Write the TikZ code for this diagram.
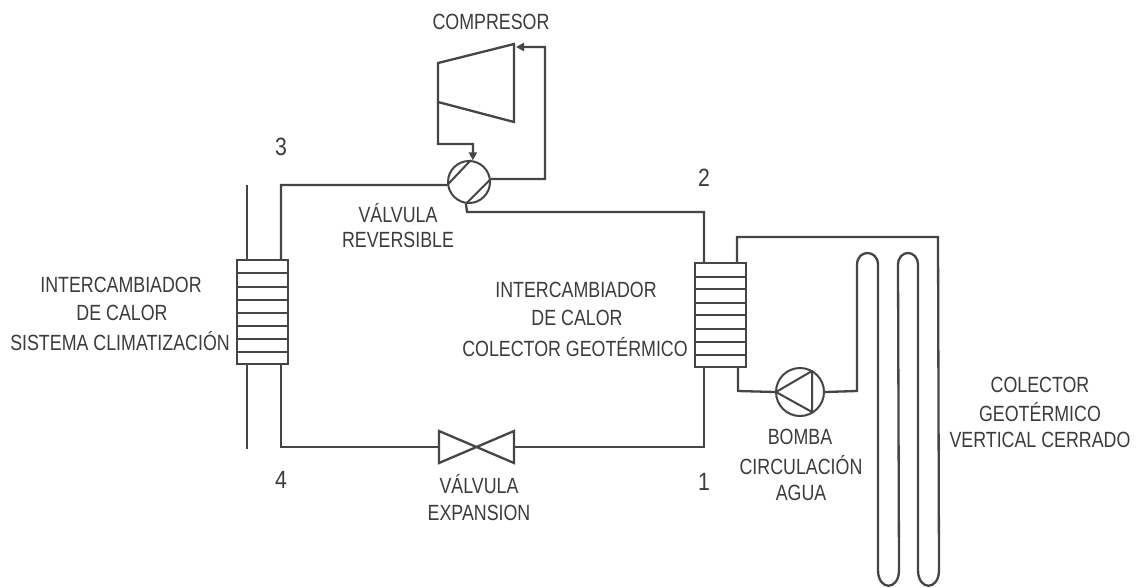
\documentclass[tikz,border=0pt]{standalone}
\usepackage{fontspec}
\setmainfont{Liberation Sans}
\usetikzlibrary{arrows.meta}
\definecolor{ink}{HTML}{454545}
\definecolor{txt}{HTML}{3C3C3C}
\tikzset{
  pipe/.style={draw=ink,line width=2.3pt,line join=miter},
  thin pipe/.style={draw=ink,line width=2pt},
  hx/.style={draw=ink,line width=2.3pt,fill=white,minimum width=51pt,minimum height=104pt,inner sep=0pt},
  roundel/.style={circle,draw=ink,line width=2pt,fill=white,inner sep=0pt},
  lbl/.style={text=txt,font=\fontsize{22}{22}\selectfont,inner sep=0pt,xscale=.81,transform shape,anchor=center},
  num/.style={text=txt,font=\fontsize{25}{25}\selectfont,inner sep=0pt,xscale=.85,transform shape,anchor=center},
  head/.style={-{Triangle[length=8pt,width=8pt]}}
}
\begin{document}
\begin{tikzpicture}[x=1pt,y=-1pt]
\useasboundingbox[fill=white] (0,0) rectangle (1136,587);
% nodes
\node[hx] (hxl) at (262.5,312) {};
\node[hx] (hxr) at (720.5,315) {};
\node[roundel,minimum size=42pt] (valve) at (469,182) {};
\node[roundel,minimum size=48pt] (pump) at (800,392) {};
\coordinate (ca) at (438,63);
\coordinate (cb) at (514,44);
\coordinate (cc) at (514,122);
\coordinate (cd) at (438,102);
\coordinate (exl) at (439,431);
\coordinate (exr) at (514,431);
\coordinate (exrb) at (514,463);
\coordinate (exlb) at (439,463);
\coordinate (exw) at (439,447);
\coordinate (exe) at (514,447);
% exchanger plates
\foreach \y in {273,287,300,313,326,339,352}
  \draw[pipe,line width=2.1pt] (hxl.west |- 0,\y) -- (hxl.east |- 0,\y);
\foreach \y in {277,289,303,315,329,342,355}
  \draw[pipe,line width=2.1pt] (hxr.west |- 0,\y) -- (hxr.east |- 0,\y);
% compressor
\draw[pipe] (ca) -- (cb) -- (cc) -- (cd) -- cycle;
\coordinate (cl) at (438,144);
\coordinate (cv) at (473,144);
\coordinate (ctr) at (545,47);
\coordinate (ctip) at (516,47);
\coordinate (vr) at (545,179);
\draw[pipe,head] (cd) -- (cl) -- (cv) -- (valve.80);
\draw[pipe,head] (valve.8) -- (vr) -- (ctr) -- (ctip);
% reversing valve
\draw[thin pipe] (valve.188) -- (valve.85);
\draw[thin pipe] (valve.262) -- (valve.8);
% main circuit
\coordinate (l1) at (281,185);
\coordinate (l1b) at (281,260);
\coordinate (l2t) at (281,364);
\coordinate (l2) at (281,447);
\coordinate (r1) at (467,212);
\coordinate (r2) at (704,212);
\coordinate (r2b) at (704,263);
\coordinate (r3t) at (704,367);
\coordinate (r3) at (704,447);
\draw[pipe] (valve.188) -- (l1) -- (l1b);
\draw[pipe] (valve.262) -- (r1) -- (r2) -- (r2b);
\draw[pipe] (l2t) -- (l2) -- (exw);
\draw[pipe] (r3t) -- (r3) -- (exe);
% expansion valve
\draw[pipe] (exl) -- (exrb) -- (exr) -- (exlb) -- cycle;
% left secondary
\coordinate (s1) at (247,185);
\coordinate (s2) at (247,260);
\coordinate (s3) at (247,364);
\coordinate (s4) at (247,449);
\draw[pipe] (s1) -- (s2);
\draw[pipe] (s3) -- (s4);
% ground loop
\coordinate (g1) at (737,263);
\coordinate (g2) at (737,237);
\coordinate (g3) at (938,237);
\coordinate (g4) at (738,367);
\coordinate (g5) at (738,391);
\coordinate (g6) at (857,391);
\draw[pipe] (g1) -- (g2) -- (g3) -- (939,570)
  .. controls (939,591) and (918,591) .. (918,570) -- (918,265)
  .. controls (918,249) and (898,249) .. (898,265) -- (899,570)
  .. controls (899,591) and (878,591) .. (878,570) -- (878,265)
  .. controls (878,249) and (857,249) .. (857,265) -- (g6) -- (pump.east);
\draw[pipe] (g4) -- (g5) -- (pump.west);
% pump triangle
\coordinate (pa) at (776,392);
\coordinate (pb) at (812,371);
\coordinate (pc) at (812,412);
\draw[thin pipe,line join=round] (pa) -- (pb) -- (pc) -- cycle;
% labels
\node[lbl] (t1) at (491,22) {COMPRESOR};
\node[num] (n3) at (281,147) {3};
\node[num] (n2) at (704,178) {2};
\node[num] (n4) at (281,480) {4};
\node[num] (n1) at (704,482) {1};
\node[lbl] (t2) at (398,213) {VÁLVULA};
\node[lbl] (t3) at (398,240) {REVERSIBLE};
\node[lbl] (t4) at (121,285) {INTERCAMBIADOR};
\node[lbl] (t5) at (122,313) {DE CALOR};
\node[lbl] (t6) at (120,341) {SISTEMA CLIMATIZACIÓN};
\node[lbl] (t7) at (576,290) {INTERCAMBIADOR};
\node[lbl] (t8) at (577,318) {DE CALOR};
\node[lbl] (t9) at (575,347) {COLECTOR GEOTÉRMICO};
\node[lbl] (t10) at (800,437) {BOMBA};
\node[lbl] (t11) at (801,465) {CIRCULACIÓN};
\node[lbl] (t12) at (801,493) {AGUA};
\node[lbl] (t13) at (1040,385) {COLECTOR};
\node[lbl] (t14) at (1040,412) {GEOTÉRMICO};
\node[lbl] (t15) at (1040,440) {VERTICAL CERRADO};
\node[lbl] (t16) at (479,484) {VÁLVULA};
\node[lbl] (t17) at (479,513) {EXPANSION};
\end{tikzpicture}
\end{document}
